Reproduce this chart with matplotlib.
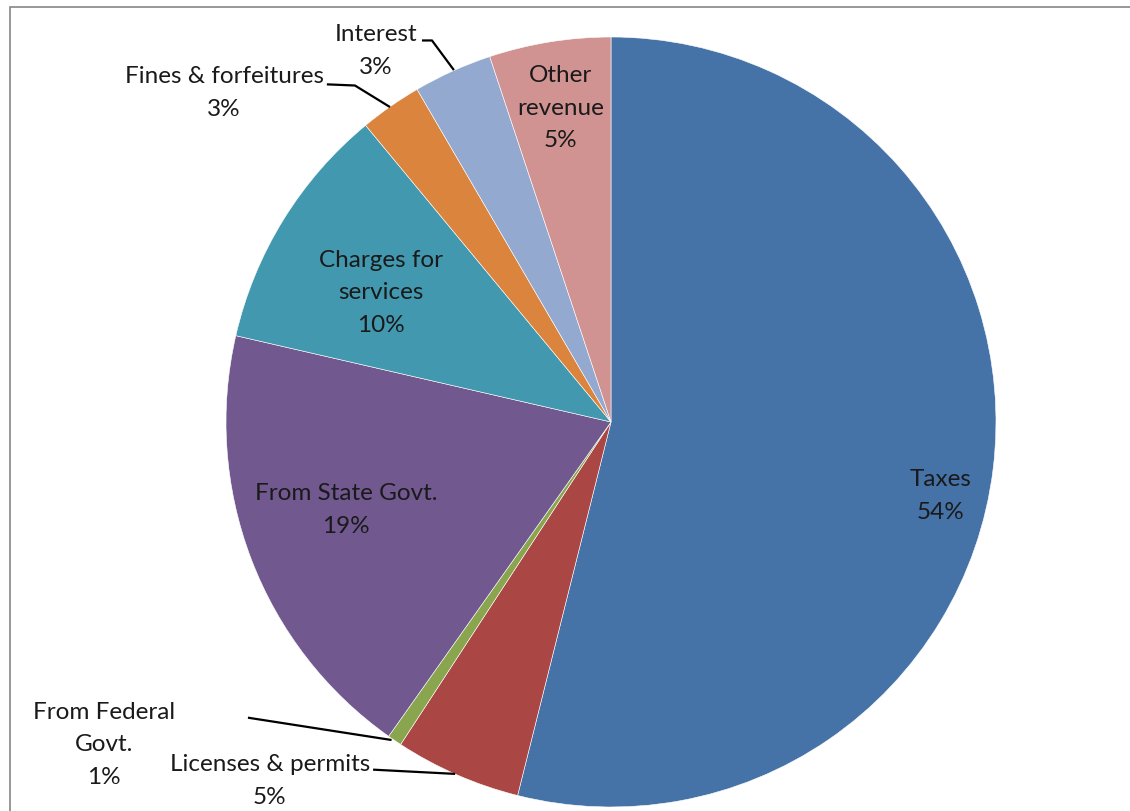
import matplotlib
matplotlib.use('Agg')
import matplotlib.pyplot as plt
from matplotlib.patches import Rectangle

plt.rcParams['font.family'] = ['Lato', 'DejaVu Sans']

# revenue sources, share of total (%)
sources = ['Taxes', 'Licenses & permits', 'From Federal\nGovt.', 'From State Govt.',
           'Charges for\nservices', 'Fines & forfeitures', 'Interest', 'Other\nrevenue']
shares = [53.9, 5.3, 0.6, 18.8, 10.4, 2.6, 3.3, 5.1]
colors = ['#4572A7', '#AA4643', '#89A54E', '#71588F',
          '#4198AF', '#DB843D', '#93A9CF', '#D19392']

# label centres (pie radius = 1) and leader lines for the small slices
label_xy = [(0.855, -0.19), (-0.886, -0.93), (-1.317, -0.836), (-0.688, -0.226),
            (-0.597, 0.338), (-1.005, 0.857), (-0.61, 0.966), (-0.13, 0.818)]
leaders = {
    1: [(-0.618, -0.903), (-0.405, -0.914)],
    2: [(-0.943, -0.768), (-0.57, -0.826)],
    5: [(-0.738, 0.877), (-0.665, 0.874), (-0.574, 0.818)],
    6: [(-0.491, 0.991), (-0.465, 0.991), (-0.408, 0.914)],
}

fig = plt.figure(figsize=(11.3, 8.12), dpi=100)
ax = fig.add_axes([0, 0, 1, 1])
ax.pie(shares, colors=colors, startangle=90, counterclock=False, radius=1,
       wedgeprops=dict(edgecolor='white', linewidth=0.4))
ax.set_xlim(-611 / 385, (1130 - 611) / 385)
ax.set_ylim(-(812 - 423) / 385, 423 / 385)
ax.set_aspect('auto')
ax.axis('off')

total = sum(shares)
for i, name in enumerate(sources):
    pct = round(shares[i] / total * 100)
    ax.text(label_xy[i][0], label_xy[i][1], '{}\n{}%'.format(name, pct),
            ha='center', va='center', fontsize=17.5, color='#1a1a1a', linespacing=1.68)

for pts in leaders.values():
    xs, ys = zip(*pts)
    ax.plot(xs, ys, color='black', lw=1.6, solid_capstyle='butt')

# chart area frame
fig.patches.append(Rectangle((10 / 1130, -0.05), 1.2, 1 - 8 / 812 + 0.05,
                             transform=fig.transFigure, fill=False,
                             edgecolor='#868686', lw=1.2))

plt.savefig('out.png', dpi=100, facecolor='white')
